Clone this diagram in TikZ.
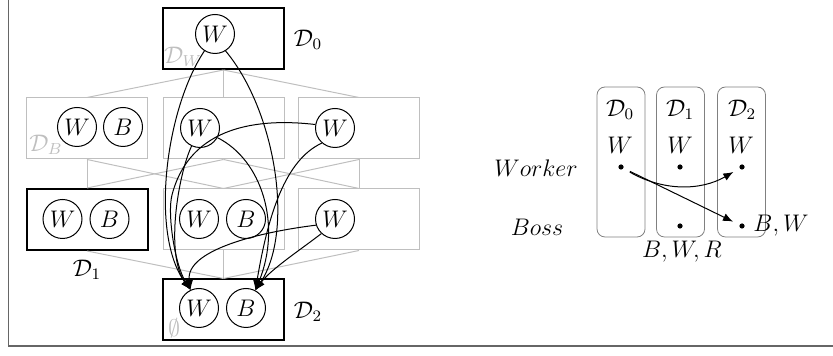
\documentclass[tikz,border=0pt]{standalone}
\usetikzlibrary{arrows.meta}
\begin{document}
\begin{tikzpicture}[x=0.5pt,y=-0.5pt,
  font=\fontsize{12}{14}\selectfont,
  lat/.style={draw=black!25, line width=0.5pt},
  thickbox/.style={draw=black, line width=1pt, minimum width=60.5pt, minimum height=30.5pt, inner sep=0},
  graybox/.style={draw=black!25, line width=0.5pt, minimum width=60.5pt, minimum height=30.5pt, inner sep=0},
  ag/.style={circle, draw, line width=0.5pt, minimum size=19.5pt, inner sep=0},
  arr/.style={-{Latex[length=5pt,width=4pt]}, line width=0.5pt},
  col/.style={draw=black!50, rounded corners=4pt, minimum width=24pt, minimum height=75pt, line width=0.4pt},
  dot/.style={circle, fill, inner sep=0, minimum size=2.6pt},
  faint/.style={text=black!25},
]
\useasboundingbox (0,0) rectangle (833,356);
\draw[black!60, line width=0.8pt] (8.5,0) -- (8.5,346) -- (833,346);

% lattice boxes
\node[thickbox] (D0) at (223.5,38.5) {};
\node[graybox] (A) at (87,128.5) {};
\node[graybox] (Bx) at (223.5,128.5) {};
\node[graybox] (C) at (359,128.5) {};
\node[thickbox] (D1) at (87,219.5) {};
\node[graybox] (E) at (223.5,219.5) {};
\node[graybox] (F) at (359,219.5) {};
\node[thickbox] (D2) at (223.5,310) {};

% lattice lines
\draw[lat] (D0.south) -- (A.north);
\draw[lat] (D0.south) -- (Bx.north);
\draw[lat] (D0.south) -- (C.north);
\draw[lat] (A.south) -- (D1.north);
\draw[lat] (A.south) -- (E.north);
\draw[lat] (Bx.south) -- (D1.north);
\draw[lat] (Bx.south) -- (F.north);
\draw[lat] (C.south) -- (E.north);
\draw[lat] (C.south) -- (F.north);
\draw[lat] (D1.south) -- (D2.north);
\draw[lat] (E.south) -- (D2.north);
\draw[lat] (F.south) -- (D2.north);

% agents
\node[ag] (tW) at (215,34) {$W$};
\node[ag] (aW) at (77,127) {$W$};
\node[ag] (aB) at (123,127) {$B$};
\node[ag] (bW) at (200,128) {$W$};
\node[ag] (cW) at (335,128) {$W$};
\node[ag] (d1W) at (62.5,219) {$W$};
\node[ag] (d1B) at (109.5,219) {$B$};
\node[ag] (eW) at (199,219) {$W$};
\node[ag] (eB) at (246,219) {$B$};
\node[ag] (fW) at (335,219) {$W$};
\node[ag] (zW) at (199,308) {$W$};
\node[ag] (zB) at (246,308) {$B$};

% labels
\node[faint] (lDW) at (183,57) {$\mathcal{D}_W$};
\node[faint] (lDB) at (46,145) {$\mathcal{D}_B$};
\node[faint] (lE) at (174,328) {$\emptyset$};
\node (l0) at (308,40) {$\mathcal{D}_0$};
\node (l1) at (87,270) {$\mathcal{D}_1$};
\node (l2) at (308,312) {$\mathcal{D}_2$};

% curves
\draw[arr] (tW.238) .. controls (165,110) and (150,235) .. (zW.115);
\draw[arr] (tW.302) .. controls (275,110) and (295,230) .. (zB.62);
\draw[arr] (bW.245) .. controls (178,175) and (165,255) .. (zW.115);
\draw[arr] (bW.331) .. controls (262,160) and (282,225) .. (zB.62);
\draw[arr] (cW.170) .. controls (260,118) and (190,125) .. (172,195) .. controls (167,214) and (175,265) .. (zW.115);
\draw[arr] (cW.229) .. controls (285,160) and (268,215) .. (zB.62);
\draw[arr] (fW.198) .. controls (260,232) and (185,250) .. (zW.115);
\draw[arr] (fW.227) .. controls (300,250) and (270,270) .. (zB.62);

% right diagram
\node[col] (c0) at (621,162) {};
\node[col] (c1) at (680.5,162) {};
\node[col] (c2) at (741.5,162) {};
\node (h0) at (620,110) {$\mathcal{D}_0$};
\node (h1) at (680,110) {$\mathcal{D}_1$};
\node (h2) at (742,110) {$\mathcal{D}_2$};
\node (w0) at (620,145) {$W$};
\node (w1) at (680,145) {$W$};
\node (w2) at (741,145) {$W$};
\node[dot] (p0) at (621,167) {};
\node[dot] (p1) at (680,167) {};
\node[dot] (p2) at (742,167) {};
\node[dot] (q1) at (680,226) {};
\node[dot] (q2) at (742,226) {};
\node (wk) at (536,168) {$Worker$};
\node (bs) at (537,227) {$Boss$};
\node (bwr) at (682,252) {$B,W,R$};
\node (bw) at (781,226) {$B,W$};
\draw[arr, shorten <=3.5pt, shorten >=3.5pt] (p0) to[bend right=30] (p2);
\draw[arr, shorten <=3.5pt, shorten >=3.5pt] (p0) -- (q2);
\end{tikzpicture}
\end{document}
